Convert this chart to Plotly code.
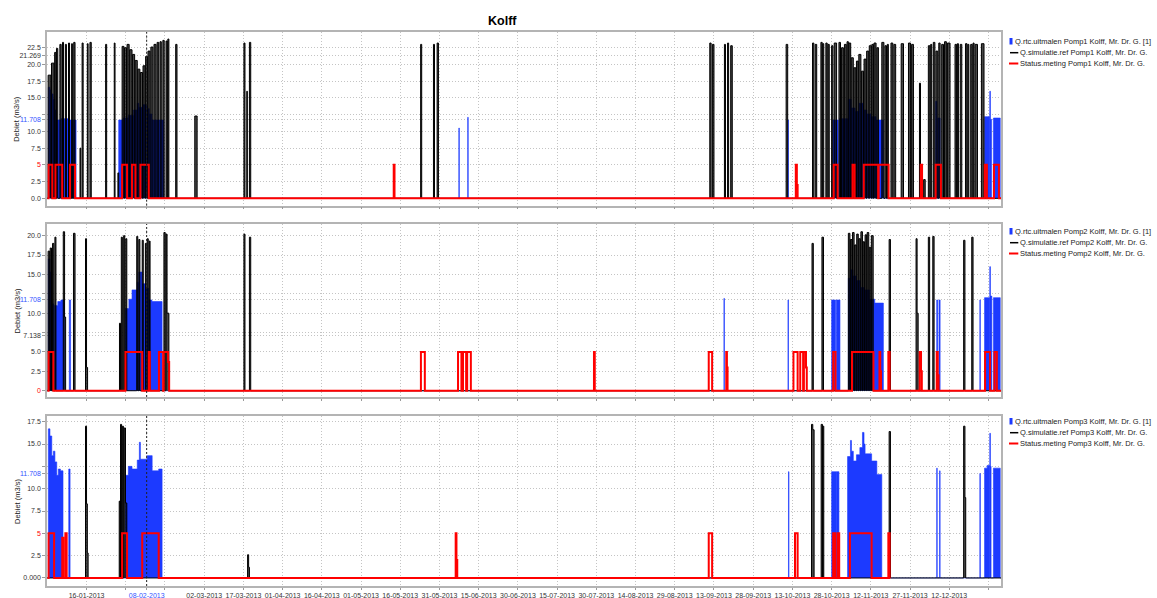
import plotly.graph_objects as go
import pandas as pd

# ---------------- data (day-of-year offsets from BASE) ----------------
BASE = "2013-01-01"
X_RANGE = ["2012-12-31 21:00", "2013-12-31 19:00"]
TITLE = "Kolff"
Y_TITLE = "Debiet (m3/s)"

PUMPS = ["Pomp1", "Pomp2", "Pomp3"]
SERIES_NAMES = ["Q.rtc.uitmalen {p} Kolff, Mr. Dr. G. [1]",
                "Q.simulatie.ref {p} Kolff, Mr. Dr. G.",
                "Status.meting {p} Kolff, Mr. Dr. G."]

# (start_day, end_day, value)
P1_BLUE = [
    (0.4, 1.0, 16.6), (1.0, 1.6, 16.2), (1.6, 2.2, 15.6), (2.2, 2.8, 14.8), (2.8, 3.3, 13.2),
    (3.3, 5.0, 11.7), (5.3, 8.2, 11.9), (8.4, 11.0, 11.7),
    (27.3, 29.0, 11.7), (29.0, 31.0, 12.0), (31.0, 33.0, 12.4), (33.0, 34.4, 13.2), (34.4, 35.0, 14.2),
    (35.0, 36.5, 13.6), (36.5, 38.0, 14.0), (38.0, 39.0, 13.4), (39.0, 40.0, 12.6), (40.0, 44.5, 11.7),
    (157.4, 157.6, 10.5), (160.8, 161.0, 12.1),
    (283.3, 283.5, 11.7),
    (300.5, 302.5, 11.7), (303.0, 306.4, 11.9), (306.4, 307.5, 14.8), (307.5, 309.0, 13.5),
    (309.0, 310.5, 13.0), (310.5, 312.0, 14.2), (312.0, 313.5, 13.2), (313.5, 315.0, 12.6),
    (315.0, 317.0, 12.2), (317.0, 319.8, 11.7),
    (339.8, 340.3, 14.5), (340.6, 341.5, 12.0),
    (358.5, 360.4, 12.2), (360.5, 360.75, 16.0), (360.75, 361.2, 11.8), (361.9, 364.5, 12.0),
]
P1_BLACK = [
    (0.3, 1.4, 18.4), (1.6, 2.6, 20.2), (2.8, 3.3, 21.8), (3.5, 4.0, 22.4), (4.8, 5.3, 23.0),
    (5.8, 6.2, 23.3), (6.9, 7.3, 23.0), (8.1, 8.5, 23.2), (9.3, 9.6, 23.1), (10.1, 10.6, 23.3),
    (12.5, 12.8, 7.5), (13.3, 13.7, 23.2), (15.3, 15.6, 23.1), (16.3, 16.8, 23.3),
    (22.3, 22.7, 23.0), (25.6, 25.9, 23.2), (27.0, 27.3, 3.8),
    (28.6, 29.3, 22.7), (29.5, 30.3, 22.5), (30.5, 31.3, 23.0), (31.5, 32.4, 22.2), (32.6, 33.4, 21.5),
    (33.6, 34.4, 20.6), (34.6, 35.4, 19.3), (35.6, 36.4, 18.8), (36.6, 37.4, 19.8), (37.6, 38.3, 21.2),
    (38.5, 39.3, 22.0), (39.6, 40.4, 22.6), (40.8, 41.6, 23.0), (42.0, 42.6, 23.3), (43.1, 43.6, 23.4),
    (44.2, 44.7, 23.6), (45.4, 45.9, 23.5), (46.1, 46.5, 23.8),
    (49.1, 49.6, 23.0), (56.4, 57.3, 12.3), (75.2, 75.6, 23.2), (76.3, 76.5, 16.0), (77.3, 77.8, 23.3),
    (142.8, 143.2, 23.0), (147.7, 148.1, 23.0), (149.1, 149.6, 23.2),
    (253.4, 253.9, 23.2), (254.4, 255.0, 23.0), (259.0, 259.4, 23.0), (260.2, 260.6, 23.2),
    (261.4, 262.0, 22.8), (282.6, 283.2, 23.0),
    (292.7, 293.2, 23.2), (293.7, 294.3, 23.0), (295.9, 296.4, 23.3), (296.6, 297.0, 23.1),
    (297.8, 298.3, 23.2), (298.6, 299.1, 23.0), (300.0, 300.5, 22.8), (301.0, 301.9, 23.2),
    (302.8, 303.4, 23.3), (303.8, 304.5, 22.5), (304.9, 305.6, 23.0), (305.9, 306.4, 23.4),
    (306.6, 307.3, 23.2), (307.5, 308.3, 21.0), (308.5, 309.3, 19.5), (309.5, 310.2, 20.5),
    (310.4, 311.2, 21.5), (311.4, 312.2, 19.0), (312.4, 313.2, 20.8), (313.4, 314.2, 22.0),
    (314.4, 315.2, 22.8), (315.4, 316.0, 23.0), (316.2, 317.0, 23.2), (317.3, 317.9, 22.5),
    (319.2, 320.0, 23.3), (320.4, 321.0, 22.8), (321.3, 321.7, 23.0), (322.7, 323.4, 23.2),
    (323.8, 324.5, 23.0), (326.6, 327.5, 23.1), (329.4, 330.2, 23.2), (330.6, 331.3, 23.0),
    (333.6, 334.0, 17.2), (335.2, 335.8, 2.8), (337.0, 337.6, 22.8), (337.9, 338.3, 23.0),
    (338.9, 339.5, 23.3), (339.9, 340.6, 22.0), (341.0, 341.5, 23.2), (342.1, 342.8, 23.0),
    (343.2, 343.9, 23.4), (344.3, 345.3, 23.2), (347.2, 347.8, 23.0), (348.1, 348.5, 23.1),
    (349.2, 349.8, 23.0), (351.2, 351.8, 23.1), (352.1, 352.5, 23.0), (353.2, 353.8, 23.0),
    (354.1, 354.5, 23.2), (354.9, 355.8, 23.0), (357.3, 358.3, 23.1),
]
P1_RED = [
    (0.5, 1.9, 5), (3.1, 5.7, 5), (8.7, 10.6, 5), (28.6, 30.5, 5), (32.4, 33.7, 5), (35.6, 38.8, 5),
    (132.5, 132.8, 5), (286.3, 286.7, 5), (286.7, 287.0, 2.0), (300.8, 302.3, 5), (308.0, 308.8, 5),
    (312.3, 317.8, 5), (318.0, 321.8, 5), (334.1, 334.6, 5), (339.8, 341.8, 5), (358.6, 359.4, 5),
    (362.1, 364.0, 5),
]

P2_BLUE = [
    (0.4, 1.0, 17.0), (1.0, 1.7, 15.3), (1.7, 2.4, 11.2), (2.8, 4.0, 11.0), (4.0, 5.2, 11.5),
    (5.2, 6.5, 11.7), (8.4, 8.9, 11.7),
    (29.9, 31.2, 10.6), (31.2, 32.4, 11.8), (32.4, 34.4, 13.0), (34.4, 35.0, 14.0), (35.0, 36.3, 15.3),
    (36.3, 37.5, 13.8), (37.5, 38.8, 13.2), (38.8, 40.0, 11.7), (40.0, 43.9, 11.5),
    (258.8, 259.0, 11.9), (283.3, 283.5, 11.7), (300.0, 301.5, 11.7), (301.8, 303.2, 11.7),
    (306.4, 307.2, 14.5), (307.2, 308.2, 15.6), (308.2, 309.5, 14.8), (309.5, 311.0, 14.2),
    (311.0, 312.5, 13.3), (312.5, 314.5, 13.0), (314.5, 316.5, 11.8), (316.5, 319.8, 11.3),
    (340.2, 340.6, 11.7), (341.1, 341.5, 11.7), (356.7, 356.9, 11.7),
    (358.5, 360.4, 12.0), (360.5, 360.75, 16.0), (360.75, 361.3, 12.2), (361.9, 364.5, 12.0),
]
P2_BLACK = [
    (0.3, 0.9, 18.0), (1.1, 1.6, 18.4), (2.0, 2.5, 19.0), (2.9, 3.3, 19.8), (6.1, 6.6, 20.5),
    (6.6, 7.0, 9.5), (10.0, 10.6, 20.3), (14.6, 15.0, 19.6), (15.0, 15.4, 3.0),
    (27.6, 28.0, 8.7), (28.3, 28.7, 19.8), (29.2, 29.6, 20.0), (30.0, 30.4, 19.6),
    (34.2, 34.6, 19.9), (35.0, 35.4, 19.5), (36.3, 36.7, 19.4), (37.5, 37.8, 19.0), (38.2, 38.6, 19.6),
    (39.0, 39.3, 19.3), (44.6, 45.1, 20.4), (45.4, 45.8, 20.2), (45.8, 46.5, 10.0),
    (75.2, 75.6, 20.2), (77.3, 77.8, 19.8),
    (292.5, 293.0, 19.0), (296.3, 296.9, 19.8),
    (306.4, 307.0, 20.3), (307.2, 307.8, 19.5), (308.0, 308.6, 20.4), (308.8, 309.4, 18.8),
    (309.6, 310.2, 20.2), (310.4, 311.0, 19.6), (311.2, 311.8, 20.5), (312.0, 312.6, 19.2),
    (312.8, 313.4, 20.1), (313.6, 314.2, 20.4), (314.4, 315.0, 18.5), (315.2, 315.9, 20.0),
    (322.0, 322.5, 19.5), (332.3, 332.7, 19.6), (332.7, 333.1, 10.0), (337.0, 337.5, 19.8),
    (338.7, 339.2, 19.9), (350.5, 351.0, 19.4), (353.6, 354.1, 19.8),
]
P2_RED = [
    (0.5, 2.3, 5), (29.9, 36.3, 5), (38.8, 39.2, 5), (42.7, 44.3, 5), (44.5, 46.2, 5), (46.2, 46.6, 3.7),
    (142.9, 144.4, 5), (157.1, 158.4, 5), (159.0, 160.2, 5), (160.6, 162.0, 5), (209.1, 209.4, 5),
    (253.0, 254.3, 5), (259.7, 259.95, 5), (259.95, 260.2, 3.0), (285.4, 287.0, 5), (288.0, 289.1, 5),
    (289.4, 290.2, 5), (290.2, 290.5, 3.0), (300.6, 301.5, 5), (307.8, 316.0, 5), (318.3, 318.6, 5),
    (318.6, 318.9, 2.5), (321.7, 322.2, 5), (333.7, 334.2, 5), (334.2, 334.5, 2.5), (340.2, 340.6, 5),
    (340.6, 340.9, 2.0), (358.7, 360.6, 5), (362.3, 363.2, 5),
]

P3_BLUE = [
    (0.4, 1.0, 16.7), (1.0, 1.7, 15.9), (1.7, 2.3, 13.7), (2.3, 2.9, 14.2), (2.9, 3.6, 13.0),
    (3.6, 4.2, 11.5), (4.2, 5.0, 12.2), (5.0, 6.0, 12.0), (8.2, 8.7, 12.2),
    (29.9, 31.0, 11.5), (31.0, 32.4, 12.5), (32.4, 34.4, 12.2), (34.4, 35.2, 13.2), (35.2, 35.6, 15.2),
    (35.6, 38.2, 13.3), (38.2, 40.1, 13.7), (40.1, 42.6, 12.0), (42.6, 43.9, 12.2),
    (283.5, 283.7, 11.9), (300.0, 301.9, 11.9), (302.0, 302.8, 11.9),
    (306.1, 307.2, 13.6), (307.2, 307.6, 15.4), (307.6, 308.3, 14.2), (308.3, 309.5, 13.1),
    (309.5, 310.8, 13.8), (310.8, 311.8, 14.6), (311.8, 312.4, 16.3), (312.4, 312.8, 15.0),
    (312.8, 315.3, 13.9), (315.3, 317.3, 13.1), (317.3, 319.2, 11.6),
    (340.2, 340.4, 12.3), (341.3, 341.5, 12.0), (356.7, 356.9, 11.7),
    (358.5, 359.5, 12.3), (359.5, 360.4, 12.6), (360.5, 360.75, 16.2), (360.75, 361.0, 12.5),
    (361.9, 364.5, 12.3),
]
P3_BLACK = [
    (14.6, 15.0, 17.0), (15.0, 15.3, 8.3), (15.3, 15.6, 2.8),
    (27.5, 27.9, 8.6), (28.0, 28.4, 17.2), (28.7, 29.1, 17.0), (29.4, 29.9, 16.8), (29.9, 30.4, 8.4),
    (76.6, 77.0, 2.6), (77.0, 77.3, 1.2),
    (292.3, 292.8, 17.2), (292.8, 293.3, 16.6), (296.0, 296.5, 17.2), (296.6, 297.0, 17.0),
    (322.0, 322.5, 16.4), (350.5, 351.0, 17.0), (351.0, 351.3, 9.0),
]
P3_RED = [
    (0.5, 2.6, 5), (5.7, 6.1, 4.5), (6.9, 7.4, 5), (28.6, 30.5, 5), (36.3, 42.6, 5),
    (156.2, 156.5, 5), (156.5, 156.8, 2.0), (253.0, 254.3, 5), (286.0, 287.0, 5),
    (300.6, 301.3, 5), (302.2, 302.9, 5), (307.0, 315.3, 5), (321.7, 322.2, 5),
]
SERIES_END = [[365.0, 365.0, 365.0], [365.0, 365.0, 365.0], [365.0, 365.0, 322.5]]

Y_RANGES = [[-1.1, 24.85], [-0.81, 21.5], [-0.9, 18.14]]
Y_TICKS = [
    [0, 2.5, 5, 7.5, 10, 11.708, 12.5, 15, 17.5, 20, 21.269, 22.5],
    [0, 2.5, 5, 7.138, 7.5, 10, 11.708, 12.5, 15, 17.5, 20],
    [0, 2.5, 5, 7.5, 10, 11.708, 12.5, 15, 17.5],
]
Y_TICK_TEXT = [
    ["0.0", "2.5", "5", "7.5", "10.0", "11.708", "", "15.0", "17.5", "20.0", "21.269", "22.5"],
    ["0", "2.5", "5.0", "7.138", "", "10.0", "11.708", "", "15.0", "17.5", "20.0"],
    ["0.000", "2.5", "5", "7.5", "10.0", "11.708", "", "15.0", "17.5"],
]
Y_TICK_COLOR = [
    {"5": "#ff0000", "11.708": "#3355ff"},
    {"0": "#ff0000", "11.708": "#3355ff"},
    {"5": "#ff0000", "11.708": "#3355ff"},
]
X_TICK_DATES = ["2013-01-16", "2013-01-31", "2013-02-08", "2013-02-15", "2013-03-02", "2013-03-17",
                "2013-04-01", "2013-04-16", "2013-05-01", "2013-05-16", "2013-05-31", "2013-06-15",
                "2013-06-30", "2013-07-15", "2013-07-30", "2013-08-14", "2013-08-29", "2013-09-13",
                "2013-09-28", "2013-10-13", "2013-10-28", "2013-11-12", "2013-11-27", "2013-12-12",
                "2013-12-27"]
X_HIDDEN_LABELS = ["2013-01-31", "2013-02-15", "2013-12-27"]
CURSOR_DATE = "2013-02-08"

PANELS = [(P1_BLUE, P1_BLACK, P1_RED), (P2_BLUE, P2_BLACK, P2_RED), (P3_BLUE, P3_BLACK, P3_RED)]

# ---------------- styling ----------------
BLUE = "rgb(28,58,255)"
COLORS = [BLUE, "#000000", "#ff0000"]
FONT = "Liberation Sans, Arial, sans-serif"
W, H = 1157, 598
PL, PR, PT, PB = 47, 1001, 32, 586  # plot area in px
PANEL_PX = [(32, 205.7), (224, 397), (416, 586)]
GRID = dict(showgrid=True, gridcolor="#c4c4c4", griddash="1px,2px", gridwidth=1)
FRAME = dict(showline=True, mirror=True, linecolor="#b4b4b4", linewidth=1.5, zeroline=False)


def px_x(px):
    return (px - PL) / (PR - PL)


def px_y(py):
    return (PB - py) / (PB - PT)


def steps(segs, end):
    xs, ys = [0.0], [0.0]
    for i, (s, e, v) in enumerate(segs):
        xs.append(s)
        ys.append(v)
        nxt = segs[i + 1][0] if i + 1 < len(segs) else None
        if nxt is None or nxt - e > 1e-9:
            xs.append(e)
            ys.append(0.0)
    xs.append(end)
    ys.append(0.0)
    dates = pd.Timestamp(BASE) + pd.to_timedelta(xs, unit="D")
    return list(dates), ys


fig = go.Figure()
for k, series in enumerate(PANELS):
    xa = "x" if k == 0 else f"x{k + 1}"
    ya = "y" if k == 0 else f"y{k + 1}"
    for j, segs in enumerate(series):
        xs, ys = steps(segs, SERIES_END[k][j])
        name = SERIES_NAMES[j].format(p=PUMPS[k])
        if j == 0:
            fig.add_trace(go.Scatter(x=xs, y=ys, mode="lines", name=name, xaxis=xa, yaxis=ya,
                                     line=dict(shape="hv", width=0.6, color=BLUE),
                                     fill="tozeroy", fillcolor=BLUE, showlegend=False))
        elif j == 1:
            fig.add_trace(go.Scatter(x=xs, y=ys, mode="lines", name=name, xaxis=xa, yaxis=ya,
                                     line=dict(shape="hv", width=1, color="#000000"),
                                     fill="tozeroy", fillcolor="rgba(0,0,0,0.72)",
                                     showlegend=False))
        else:
            fig.add_trace(go.Scatter(x=xs, y=ys, mode="lines", name=name, xaxis=xa, yaxis=ya,
                                     line=dict(shape="hv", width=2, color="#ff0000"),
                                     showlegend=False))

x_text = []
for d in X_TICK_DATES:
    if d in X_HIDDEN_LABELS:
        x_text.append("")
    elif d == CURSOR_DATE:
        x_text.append('<span style="color:#3355ff">' + pd.Timestamp(d).strftime("%d-%m-%Y") + "</span>")
    else:
        x_text.append(pd.Timestamp(d).strftime("%d-%m-%Y"))

layout = dict(
    width=W, height=H, plot_bgcolor="white", paper_bgcolor="white",
    margin=dict(l=PL, r=W - PR, t=PT, b=H - PB, autoexpand=False),
    font=dict(family=FONT, size=7, color="#333333"),
    showlegend=False,
)
shapes, annotations = [], []
for k in range(3):
    top, bot = PANEL_PX[k]
    sfx = "" if k == 0 else str(k + 1)
    layout["xaxis" + sfx] = dict(
        domain=[0, 1], range=X_RANGE, type="date", anchor="y" + sfx,
        tickvals=X_TICK_DATES, ticktext=x_text, showticklabels=(k == 2),
        tickfont=dict(size=7, color="#333333"), ticks="outside", ticklen=2, tickcolor="#999999",
        automargin=False, **GRID, **FRAME,
    )
    ttext = []
    for t in Y_TICK_TEXT[k]:
        c = Y_TICK_COLOR[k].get(t)
        ttext.append(f'<span style="color:{c}">{t}</span>' if c else t)
    layout["yaxis" + sfx] = dict(
        domain=[px_y(bot), px_y(top)], range=Y_RANGES[k], anchor="x" + sfx,
        tickvals=Y_TICKS[k], ticktext=ttext, tickfont=dict(size=7, color="#333333"),
        ticks="outside", ticklen=3, tickcolor="#999999",
        automargin=False, **GRID, **FRAME,
    )
    # cursor line
    shapes.append(dict(type="line", xref="x" + sfx, yref="y" + sfx + " domain",
                       x0=CURSOR_DATE, x1=CURSOR_DATE, y0=0, y1=1,
                       line=dict(color="#222222", width=1, dash="2px,2px")))
    # y title
    annotations.append(dict(text=Y_TITLE, xref="paper", yref="paper", x=px_x(17),
                            y=px_y((top + bot) / 2), textangle=-90, showarrow=False,
                            font=dict(size=7.5, color="#222222"), xanchor="center", yanchor="middle"))
    # legend (drawn manually to match the compact spacing)
    dy = [0, 190, 380][k]
    shapes.append(dict(type="rect", xref="paper", yref="paper",
                       x0=px_x(1009.5), x1=px_x(1012.5), y0=px_y(44.5 + dy), y1=px_y(38 + dy),
                       fillcolor=BLUE, line=dict(width=0)))
    shapes.append(dict(type="line", xref="paper", yref="paper",
                       x0=px_x(1010), x1=px_x(1018.3), y0=px_y(52.7 + dy), y1=px_y(52.7 + dy),
                       line=dict(color="#000000", width=1.5)))
    shapes.append(dict(type="line", xref="paper", yref="paper",
                       x0=px_x(1009), x1=px_x(1018.3), y0=px_y(63.5 + dy), y1=px_y(63.5 + dy),
                       line=dict(color="#ff0000", width=2)))
    for j, (tx, ty) in enumerate([(1012.5, 41.2), (1017.8, 52.7), (1017.8, 63.5)]):
        annotations.append(dict(text=SERIES_NAMES[j].format(p=PUMPS[k]), xref="paper", yref="paper",
                                x=px_x(tx), y=px_y(ty + dy), xanchor="left", yanchor="middle",
                                showarrow=False, font=dict(size=7.5, color="#222222")))

annotations.append(dict(text="<b>" + TITLE + "</b>", xref="paper", yref="paper", x=px_x(502),
                        y=px_y(20.7), xanchor="center", yanchor="middle", showarrow=False,
                        font=dict(size=12.5, color="#000000", family=FONT)))
layout["shapes"] = shapes
layout["annotations"] = annotations
fig.update_layout(**layout)
fig.write_html("out.html")
